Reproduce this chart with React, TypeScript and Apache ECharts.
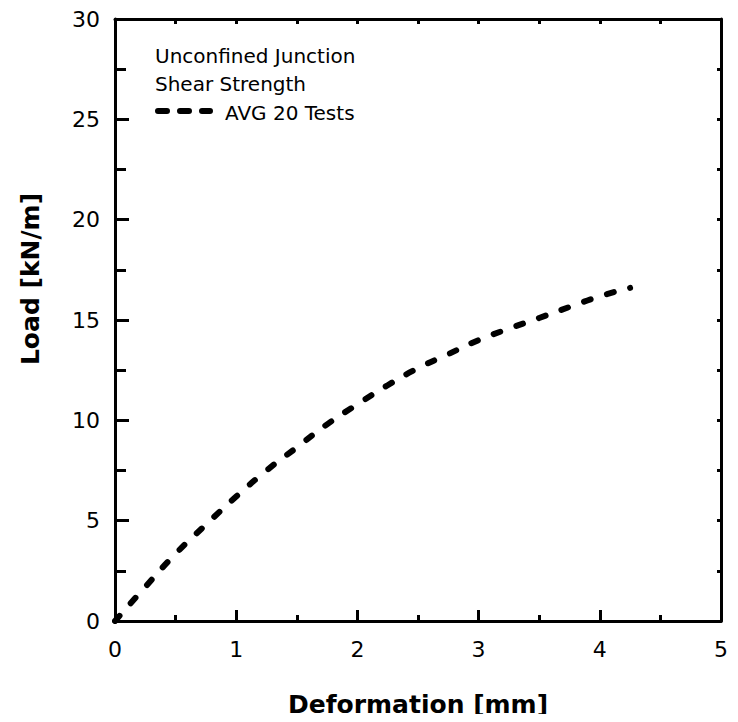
import React, { useEffect, useRef } from "react";
import * as echarts from "echarts";

const deformation = [0, 0.25, 0.5, 0.75, 1.0, 1.25, 1.5, 1.75, 2.0, 2.25, 2.5, 2.75, 3.0, 3.25, 3.5, 3.75, 4.0, 4.25];
const load = [0, 1.7, 3.35, 4.8, 6.2, 7.5, 8.65, 9.8, 10.8, 11.75, 12.6, 13.3, 14.0, 14.57, 15.1, 15.65, 16.18, 16.6];
const seriesName = "AVG 20 Tests";
const legendHeader = ["Unconfined Junction", "Shear Strength"];
const xTitle = "Deformation [mm]";
const yTitle = "Load [kN/m]";

const FONT = "DejaVu Sans";

export default function App() {
  const ref = useRef<HTMLDivElement>(null);
  useEffect(() => {
    if (!ref.current) return;
    const chart = echarts.init(ref.current, null, { renderer: "svg" });
    const axisLine = { show: true, onZero: false, lineStyle: { color: "#000", width: 3 } };
    const dash = [7, 17];
    chart.setOption({
      animation: false,
      backgroundColor: "#fff",
      grid: { left: 115, right: 17, top: 19, bottom: 100, containLabel: false },
      graphic: [
        {
          type: "text",
          x: 155,
          y: 56,
          style: {
            text: legendHeader[0],
            fontFamily: FONT,
            fontSize: 20,
            fill: "#000",
            verticalAlign: "middle",
          },
        },
        {
          type: "text",
          x: 155,
          y: 84,
          style: {
            text: legendHeader[1],
            fontFamily: FONT,
            fontSize: 20,
            fill: "#000",
            verticalAlign: "middle",
          },
        },
        {
          type: "line",
          shape: { x1: 158, y1: 111, x2: 210, y2: 111 },
          style: { stroke: "#000", lineWidth: 6, lineDash: [9, 13], lineCap: "round" },
        },
        {
          type: "text",
          x: 225,
          y: 113,
          style: {
            text: seriesName,
            fontFamily: FONT,
            fontSize: 20,
            fill: "#000",
            verticalAlign: "middle",
          },
        },
        {
          type: "text",
          x: 30,
          y: 279,
          rotation: Math.PI / 2,
          style: {
            text: yTitle,
            fontFamily: FONT,
            fontSize: 25,
            fontWeight: "bold",
            fill: "#000",
            align: "center",
            verticalAlign: "middle",
          },
        },
      ],
      xAxis: [
        {
          type: "value",
          min: 0,
          max: 5,
          interval: 1,
          position: "bottom",
          name: xTitle,
          nameLocation: "middle",
          nameGap: 71,
          nameTextStyle: { fontFamily: FONT, fontSize: 25, fontWeight: "bold", color: "#000" },
          axisLine,
          axisTick: { show: true, inside: true, length: 11, lineStyle: { color: "#000", width: 3 } },
          minorTick: { show: true, splitNumber: 2, length: 6, lineStyle: { color: "#000", width: 3 } },
          axisLabel: { margin: 17, fontFamily: FONT, fontSize: 22, color: "#000" },
          splitLine: { show: false },
        },
        {
          type: "value",
          min: 0,
          max: 5,
          interval: 1,
          position: "top",
          axisLine,
          axisTick: { show: true, inside: true, length: 5, lineStyle: { color: "#000", width: 3 } },
          minorTick: { show: true, splitNumber: 2, length: 5, lineStyle: { color: "#000", width: 3 } },
          axisLabel: { show: false },
          splitLine: { show: false },
        },
      ],
      yAxis: [
        {
          type: "value",
          min: 0,
          max: 30,
          interval: 5,
          position: "left",
          axisLine,
          axisTick: { show: true, inside: true, length: 14, lineStyle: { color: "#000", width: 3 } },
          minorTick: { show: true, splitNumber: 2, length: 11, lineStyle: { color: "#000", width: 3 } },
          axisLabel: { margin: 15, fontFamily: FONT, fontSize: 22, color: "#000" },
          splitLine: { show: false },
        },
        {
          type: "value",
          min: 0,
          max: 30,
          interval: 5,
          position: "right",
          axisLine,
          axisTick: { show: true, inside: true, length: 4, lineStyle: { color: "#000", width: 3 } },
          minorTick: { show: true, splitNumber: 2, length: 4, lineStyle: { color: "#000", width: 3 } },
          axisLabel: { show: false },
          splitLine: { show: false },
        },
      ],
      series: [
        {
          name: seriesName,
          type: "line",
          xAxisIndex: 0,
          yAxisIndex: 0,
          data: deformation.map((d, i) => [d, load[i]]),
          smooth: true,
          showSymbol: false,
          symbol: "none",
          lineStyle: { color: "#000", width: 6, type: dash, cap: "round" },
          itemStyle: { color: "#000" },
        },
      ],
    });
    return () => chart.dispose();
  }, []);
  return <div ref={ref} style={{ width: 738, height: 722, margin: -8 }} />;
}
